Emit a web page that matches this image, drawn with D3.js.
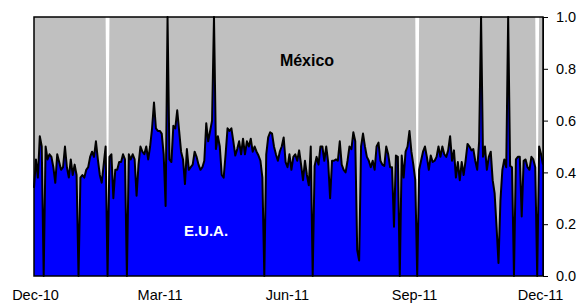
<!DOCTYPE html>
<html>
<head>
<meta charset="utf-8">
<script src="https://cdn.jsdelivr.net/npm/d3@7"></script>
<style>
  body { margin: 0; background: #fff; }
  svg { display: block; font-family: Arial, "Liberation Sans", sans-serif; }
</style>
</head>
<body>
<svg id="chart" width="580" height="307"></svg>
<script>
// daily share of E.U.A. (rest is México); holidays = no data for either
const eua = [
  0.34, 0.45, 0.38, 0.54, 0.50, 0, 0.50, 0.45, 0.47, 0.46, 0.42, 0.36, 0.47, 0.44, 0.41, 0.42, 0.50, 0.42, 0.38, 0.45,
  0.39, 0.43, 0.39, 0, 0.38, 0.39, 0.38, 0.41, 0.42, 0.46, 0.48, 0.46, 0.52, 0.45, 0.39, 0.36, 0.43, 0.50, 0, 0.46,
  0.47, 0.30, 0.41, 0.41, 0.44, 0.44, 0.47, 0.45, 0, 0.47, 0.45, 0.47, 0.45, 0.31, 0.43, 0.50, 0.48, 0.47, 0.50, 0.45,
  0.50, 0.57, 0.67, 0.57, 0.56, 0.56, 0.55, 0.47, 0.27, 1.0, 0.45, 0.44, 0.58, 0.57, 0.64, 0.56, 0.48, 0.45,
  0.355, 0.49, 0.41, 0.42, 0.43, 0.48, 0.46, 0.43, 0.41, 0.42, 0.445, 0.59, 0.52, 0.56, 0.60, 1.0, 0.49, 0.54, 0.50, 0.39,
  0.38, 0.47, 0.57, 0.56, 0.57, 0.52, 0.465, 0.49, 0.52, 0.47, 0.53, 0.47, 0.52, 0.50, 0.53, 0.48, 0.50,
  0.48, 0.465, 0.445, 0.38, 0, 0.47, 0.535, 0.555, 0.55, 0.50, 0.47, 0.445, 0.48, 0.50, 0.535, 0.44, 0.42, 0.47, 0.41, 0.46,
  0.47, 0.445, 0.485, 0.43, 0.37, 0.445, 0.39, 0.35, 0.50, 0, 0.425, 0.46, 0.43, 0.50, 0.50, 0.445, 0.50,
  0.44, 0.30, 0.445, 0.445, 0.45, 0.445, 0.52, 0.43, 0.41, 0.40, 0.445, 0.50, 0.49, 0.555, 0.52, 0.10, 0.06, 0.50, 0.55, 0.50,
  0.46, 0.445, 0.42, 0.445, 0.41, 0.50, 0.515, 0.445, 0.43, 0.425, 0.50, 0.47, 0.42, 0.42, 0.19, 0.465, 0.46,
  0, 0.465, 0.38, 0.48, 0.50, 0.56, 0.48, 0.43, 0.37, 0, 0.41, 0.445, 0.48, 0.50, 0.46, 0.41, 0.465, 0.44, 0.445, 0.46,
  0.50, 0.46, 0.50, 0.47, 0.46, 0.485, 0.54, 0.445, 0.485, 0.38, 0.44, 0.37, 0.44, 0.39, 0.445, 0.51,
  0.50, 0.485, 0.49, 0.445, 0.41, 0.52, 1.0, 0.46, 0.50, 0.41, 0.46, 0.48, 0.37, 0.32, 0.19, 0.05, 0.29, 0.41, 0.45, 0.42,
  1.0, 0.425, 0.42, 0, 0.45, 0.46, 0.46, 0.23, 0.445, 0.45, 0.42, 0.41, 0.46, 0.45, 0.42, 0, 0.50, 0.47, 0.43
];
const holidays = [38, 198, 260];
const mexico = eua.map((v, i) => holidays.includes(i) ? 0 : 1 - v);

const yTicks = [0, 0.2, 0.4, 0.6, 0.8, 1.0];
const monthTicks = [new Date(2010, 11, 1), new Date(2011, 2, 1), new Date(2011, 5, 1), new Date(2011, 8, 1), new Date(2011, 11, 1)];

const mLeft = 34, mRight = 543, mTop = 17, mBottom = 276;

const svg = d3.select("#chart");

const rows = eua.map((v, i) => ({i: i, eua: v, mexico: mexico[i]}));
const series = d3.stack().keys(["eua", "mexico"])(rows);

const x = d3.scaleLinear().domain([0, eua.length - 1]).range([mLeft, mRight]);
const y = d3.scaleLinear().domain([0, 1]).range([mBottom, mTop]);
const xt = d3.scaleTime().domain([monthTicks[0], monthTicks[4]]).range([35, 540]);

const area = d3.area()
    .x(d => x(d.data.i))
    .y0(d => y(d[0]))
    .y1(d => y(d[1]));

svg.append("path")
    .datum(series[1])
    .attr("fill", "#c0c0c0")
    .attr("d", area);

svg.append("path")
    .datum(series[0])
    .attr("fill", "#0000ff")
    .attr("d", area);

svg.append("path")
    .datum(eua)
    .attr("fill", "none")
    .attr("stroke", "#000")
    .attr("stroke-width", 2)
    .attr("stroke-linejoin", "round")
    .attr("d", d3.line().x((d, i) => x(i)).y(d => y(d)));

// plot frame
svg.append("rect")
    .attr("x", mLeft).attr("y", mTop)
    .attr("width", mRight - mLeft).attr("height", mBottom - mTop)
    .attr("fill", "none")
    .attr("stroke", "#000")
    .attr("stroke-width", 1.5);

const yAxis = svg.append("g")
    .attr("transform", `translate(${mRight},0)`)
    .call(d3.axisRight(y).tickValues(yTicks).tickFormat(d3.format(".1f")).tickSize(5).tickPadding(8));
yAxis.select(".domain").attr("stroke", "#000");
yAxis.selectAll("text").attr("font-size", 14.5).attr("fill", "#000").attr("font-family", "Arial, 'Liberation Sans', sans-serif");

const xAxis = svg.append("g")
    .attr("transform", `translate(0,${mBottom})`)
    .call(d3.axisBottom(xt).tickValues(monthTicks).tickFormat(d3.timeFormat("%b-%y")).tickSize(0).tickPadding(14));
xAxis.select(".domain").remove();
xAxis.selectAll("text").attr("font-size", 14.5).attr("fill", "#000").attr("font-family", "Arial, 'Liberation Sans', sans-serif");

svg.append("text")
    .attr("x", 307).attr("y", 66)
    .attr("text-anchor", "middle")
    .attr("font-size", 16).attr("font-weight", "bold")
    .attr("fill", "#000")
    .text("México");

svg.append("text")
    .attr("x", 206).attr("y", 236)
    .attr("text-anchor", "middle")
    .attr("font-size", 15).attr("font-weight", "bold")
    .attr("fill", "#fff")
    .text("E.U.A.");
</script>
</body>
</html>
